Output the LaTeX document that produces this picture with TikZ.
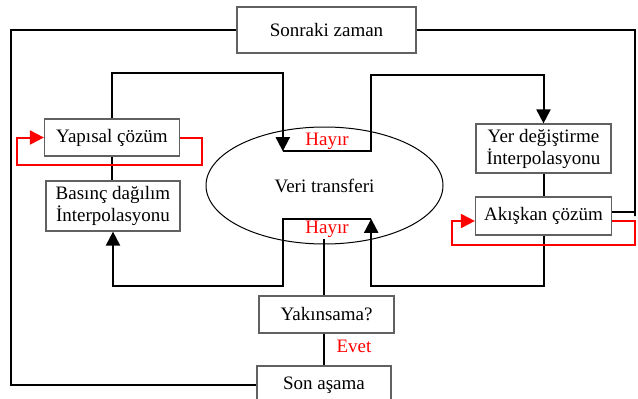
\documentclass[tikz,border=0pt]{standalone}
\usepackage{fontspec}
\setmainfont{Liberation Serif}
\usetikzlibrary{arrows.meta,shapes,positioning}
\definecolor{boxgray}{rgb}{0.38,0.38,0.38}
\tikzstyle{kutu}=[draw=boxgray, line width=1.2pt, align=center, inner sep=2pt]
\tikzstyle{cizgi}=[draw, line width=2pt]
\tikzstyle{akis}=[draw, line width=2pt, -{Triangle[length=14pt,width=14pt]}]
\tikzstyle{geri}=[draw=red, line width=2pt, -{Triangle[length=14pt,width=14pt]}]
\tikzstyle{etiket}=[text=red, inner sep=0pt]

\begin{document}
\begin{tikzpicture}[x=1pt, y=-1pt]
\fontsize{19}{22}\selectfont
\useasboundingbox (0,0) rectangle (638,399);

\node[kutu, minimum width=179pt, minimum height=46pt] at (326.5,30) (sonraki) {Sonraki zaman};
\node[kutu, minimum width=135pt, minimum height=37pt] at (112,137.5) (yapisal) {Yapısal çözüm};
\node[kutu, minimum width=134pt, minimum height=50pt] at (113,206) (basinc) {Basınç dağılım\\İnterpolasyonu};
\node[draw, ellipse, line width=1pt, inner sep=0pt, minimum width=237pt, minimum height=117pt] at (324.5,185.5) (veri) {\raisebox{-4pt}{Veri transferi}};
\node[etiket, minimum width=88pt, minimum height=20pt] at (327,141) (hayirust) {Hayır};
\node[etiket, minimum width=88pt, minimum height=20pt] at (327,229) (hayiralt) {Hayır};
\node[kutu, minimum width=135pt, minimum height=49pt] at (543.5,148.5) (yer) {Yer değiştirme\\İnterpolasyonu};
\node[kutu, minimum width=136pt, minimum height=38pt] at (543.5,216) (akiskan) {Akışkan çözüm};
\node[kutu, minimum width=135pt, minimum height=37pt] at (326.5,314.5) (yakinsama) {Yakınsama?};
\node[kutu, minimum width=134pt, minimum height=38pt] at (324,385) (son) {Son aşama};
\node[etiket] at (354,346) (evet) {Evet};

% zaman dongusu
\draw[cizgi] (sonraki.west) -- ++(-225,0) |- (son.west);
\draw[cizgi] (sonraki.east) -| ([xshift=23pt]akiskan.east) |- ([yshift=4pt]akiskan.east);

% yapisal taraf
\draw[cizgi] (yapisal.south) -- (yapisal.south |- basinc.north);
\draw[akis] (yapisal.north) |- ([yshift=78pt]hayirust.south west) -- (hayirust.south west);
\draw[akis] (hayirust.south west) -- (hayirust.south east) -- ++(0,-76) -| (yer.north);

% akiskan taraf
\draw[cizgi] (yer.south) -- (akiskan.north);
\draw[akis] (akiskan.south) -- ++(0,50) -| (hayiralt.north east);
\draw[akis] (hayiralt.north east) -- (hayiralt.north west) -- ++(0,67) -| (basinc.south);

% yakinsama
\draw[cizgi] (son.north |- yakinsama.north) -- (son.north |- hayiralt.south);
\draw[cizgi] (son.north |- yakinsama.south) -- (son.north);

% alt iterasyonlar
\draw[geri] (yapisal.east) -- ++(22,0) -- ++(0,27) -| ([xshift=-27pt]yapisal.west) -- (yapisal.west);
\draw[geri] ([yshift=-5pt]akiskan.east) -- ++(23,0) -- ++(0,24) -| ([xshift=-23pt,yshift=-5pt]akiskan.west) -- ([yshift=-5pt]akiskan.west);
\end{tikzpicture}
\end{document}
